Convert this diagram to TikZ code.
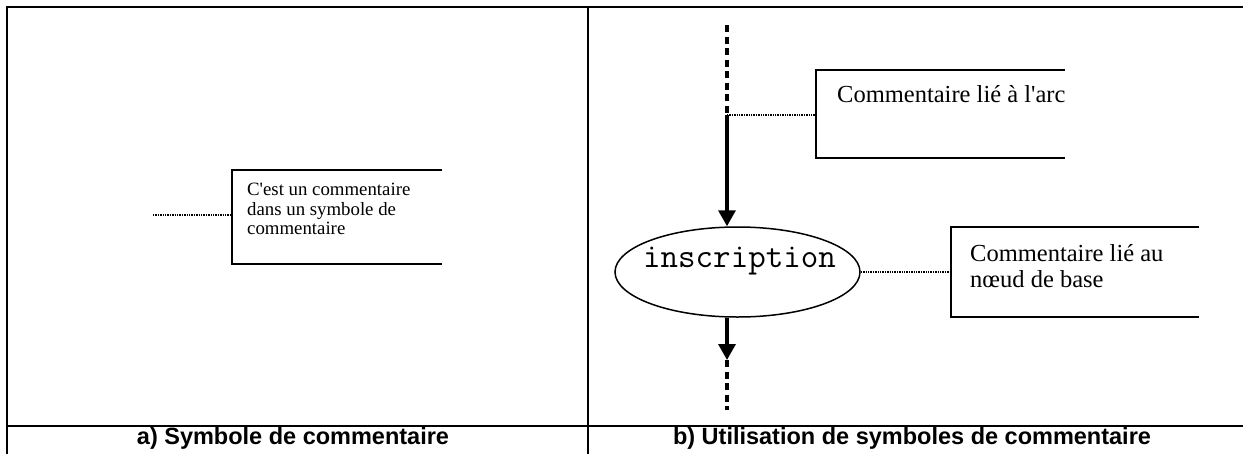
\documentclass[tikz,border=0pt]{standalone}
\usepackage{fontspec}
\setmainfont{Liberation Serif}
\setsansfont{Liberation Sans}
\usetikzlibrary{shapes.geometric,arrows.meta}

\begin{document}
\begin{tikzpicture}[x=1pt,y=-1pt,
  frame/.style={line width=2.4pt},
  bracket/.style={line width=2pt},
  bracketbox/.style={inner sep=0pt, anchor=north west},
  link/.style={line width=2.4pt, dash pattern=on 1.4pt off 1pt},
  flow/.style={line width=3.4pt, -{Triangle[length=16pt,width=17pt]}},
  flowdash/.style={line width=3.4pt, dash pattern=on 7pt off 4.5pt},
  note/.style={inner sep=0pt, anchor=north west, align=left},
  caption/.style={inner sep=0pt, anchor=base, font=\sffamily\bfseries\fontsize{23.5}{26}\selectfont},
]
\clip (0,0) rectangle (1243,453);

% table frame
\draw[frame] (7,7) rectangle (1262,472);
\draw[frame] (588,7) -- (588,472);
\draw[frame] (7,426) -- (1262,426);

% captions
\node[caption] (capa) at (293,444) {a) Symbole de commentaire};
\node[caption] (capb) at (912,444) {b) Utilisation de symboles de commentaire};

% (a) comment symbol alone
\node[bracketbox, minimum width=210pt, minimum height=94pt] (ca) at (232,170) {};
\draw[bracket] (ca.north east) -- (ca.north west) -- (ca.south west) -- (ca.south east);
\node[note, font=\fontsize{18.8}{19.5}\selectfont] (ta) at (247,183.3)
  {C\textquotesingle est un commentaire\\dans un symbole de\\commentaire};
\coordinate (la) at (153,215);
\draw[link] (la) -- (la -| ca.west);

% (b) comment symbols attached to an arc and a node
\node[ellipse, draw, line width=1.5pt, minimum width=245pt, minimum height=90pt, inner sep=0pt] (ins) at (737.5,272) {};
\node[inner sep=0pt, anchor=base, font=\ttfamily\fontsize{34}{36}\selectfont] (instext) at (739.5,267) {inscription};

\coordinate (top) at (727,25);
\coordinate (j) at (727,115);
\coordinate (b2) at (727,360);
\coordinate (b3) at (727,410);
\draw[flowdash] (top) -- (j);
\draw[flow] (j) -- (top |- ins.north);
\draw[flow] (top |- ins.south) -- (b2);
\draw[flowdash] (b2) -- (b3);

\node[bracketbox, minimum width=249pt, minimum height=88pt] (cb) at (816,70) {};
\draw[bracket] (cb.north east) -- (cb.north west) -- (cb.south west) -- (cb.south east);
\node[inner sep=0pt, anchor=base west, font=\fontsize{24.5}{25}\selectfont] (tb) at (837,102) {Commentaire lié à l\textquotesingle arc};
\draw[link] (j) -- (j -| cb.west);

\node[bracketbox, minimum width=248pt, minimum height=90pt] (cc) at (951,227) {};
\draw[bracket] (cc.north east) -- (cc.north west) -- (cc.south west) -- (cc.south east);
\node[note, font=\fontsize{24.5}{25.5}\selectfont] (tc) at (970,244.3)
  {Commentaire lié au\\nœud de base};
\draw[link] (ins.east) -- (ins.east -| cc.west);
\end{tikzpicture}
\end{document}
